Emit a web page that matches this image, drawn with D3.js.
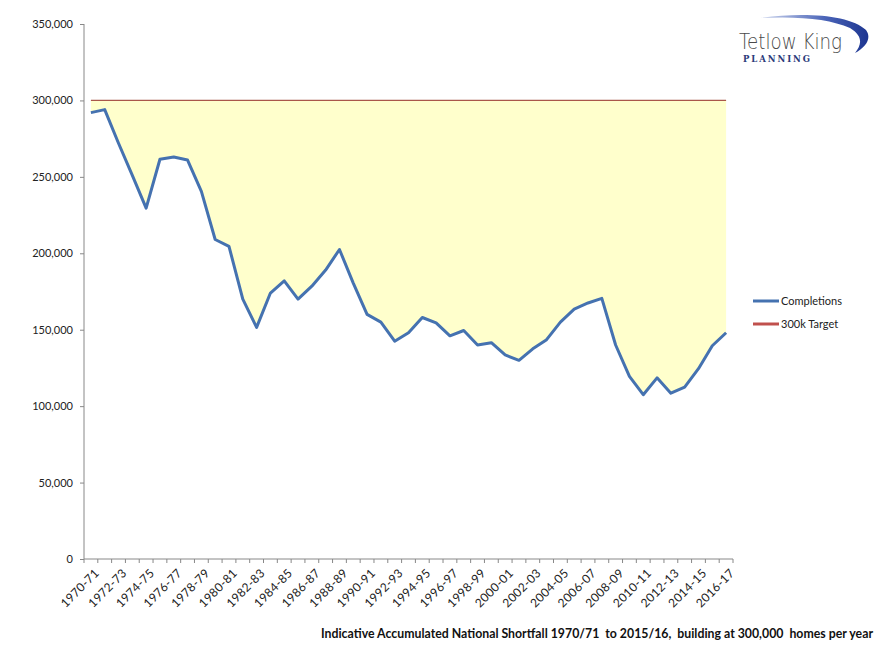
<!DOCTYPE html>
<html><head><meta charset="utf-8">
<script src="https://cdn.jsdelivr.net/npm/d3@7"></script>
<style>body{margin:0;background:#fff}svg{display:block}</style>
</head><body>
<svg id="c" width="880" height="660"></svg>
<script>
const categories = ["1970-71","1971-72","1972-73","1973-74","1974-75","1975-76","1976-77","1977-78","1978-79","1979-80",
"1980-81","1981-82","1982-83","1983-84","1984-85","1985-86","1986-87","1987-88","1988-89","1989-90",
"1990-91","1991-92","1992-93","1993-94","1994-95","1995-96","1996-97","1997-98","1998-99","1999-00",
"2000-01","2001-02","2002-03","2003-04","2004-05","2005-06","2006-07","2007-08","2008-09","2009-10",
"2010-11","2011-12","2012-13","2013-14","2014-15","2015-16","2016-17"];
const completions = [292000,294000,272000,251000,229500,261500,263000,261000,240500,209000,
204500,170000,151500,174000,182000,170000,178500,189000,202500,180500,
160000,155000,142500,148000,158000,154500,146000,149500,140000,141500,
133500,130000,137500,143500,155000,163500,167500,170500,140000,119500,
107500,118500,108500,112500,124500,139500,148000];
const target = 300000;
const yTicks = [0,50000,100000,150000,200000,250000,300000,350000];
const seriesNames = ["Completions","300k Target"];
const titleText = "Indicative Accumulated National Shortfall 1970/71  to 2015/16,  building at 300,000  homes per year";

const svg = d3.select("#c");
const font = "Lato, 'Open Sans', sans-serif";
const x = d3.scaleBand().domain(categories).range([84,733]).padding(0);
const bw = x.bandwidth();
const cx = c => x(c) + bw/2;
const y = d3.scaleLinear().domain([0,350000]).range([559,24]);

const data = categories.map((c,i)=>({c, v: completions[i]}));

// fill between target and completions
svg.append("path").datum(data)
  .attr("d", d3.area().x(d=>cx(d.c)).y0(y(target)).y1(d=>y(d.v)))
  .attr("fill","#FFFFCC");

// target line
svg.append("path").datum(data)
  .attr("d", d3.line().x(d=>cx(d.c)).y(()=>y(target)))
  .attr("fill","none").attr("stroke","#A9574A").attr("stroke-width",1.3);

// completions line
svg.append("path").datum(data)
  .attr("d", d3.line().x(d=>cx(d.c)).y(d=>y(d.v)))
  .attr("fill","none").attr("stroke","#4572B0").attr("stroke-width",3).attr("stroke-linejoin","round");

// y axis
const ya = svg.append("g").attr("transform","translate(84,0)")
  .call(d3.axisLeft(y).tickValues(yTicks).tickSize(4).tickPadding(7).tickFormat(d=>d===0?"0":d3.format(",")(d)));
ya.select(".domain").attr("stroke","#888").attr("d","M0,24V559");
ya.selectAll(".tick line").attr("stroke","#888");
ya.selectAll(".tick text").attr("fill","#222").style("font-family",font).style("font-size","11px");

// x axis line
svg.append("line").attr("x1",84).attr("x2",733).attr("y1",559).attr("y2",559).attr("stroke","#888");
// tick marks at band edges
const edges = categories.map(c=>x(c)).concat([x.range()[1]]);
svg.append("g").selectAll("line").data(edges).join("line")
  .attr("x1",d=>d).attr("x2",d=>d).attr("y1",559).attr("y2",563).attr("stroke","#888");
// labels
svg.append("g").selectAll("text").data(categories.filter((c,i)=>i%2===0)).join("text")
  .attr("transform",c=>`translate(${cx(c)+6},${571}) rotate(-45)`)
  .attr("text-anchor","end").attr("dy","0.35em")
  .attr("fill","#222").style("font-family",font).style("font-size","12px").style("letter-spacing","0.3px")
  .text(c=>c);

// legend
const lg = svg.append("g");
const lcol = ["#4572B0","#C0504D"];
seriesNames.forEach((n,i)=>{
  const yy = 301 + i*23;
  lg.append("line").attr("x1",753).attr("x2",779).attr("y1",yy).attr("y2",yy).attr("stroke",lcol[i]).attr("stroke-width",3);
  lg.append("text").attr("x",781).attr("y",yy).attr("dy","0.35em").attr("fill","#222")
    .style("font-family",font).style("font-size","11px").text(n);
});

// title
svg.append("text").attr("x",321).attr("y",638).attr("textLength",552).attr("lengthAdjust","spacingAndGlyphs")
  .style("font-family",font).style("font-size","12.5px").style("font-weight","bold").attr("fill","#111")
  .style("white-space","pre").text(titleText);

// logo
const logo = svg.append("g");
const grad = svg.append("defs").append("linearGradient").attr("id","sw").attr("x1","0").attr("x2","1");
grad.append("stop").attr("offset","0").attr("stop-color","#d3dbf0");
grad.append("stop").attr("offset","0.6").attr("stop-color","#4a64b8");
grad.append("stop").attr("offset","1").attr("stop-color","#1d3590");
logo.append("path").attr("fill","url(#sw)")
  .attr("d","M760,18 C800,12 850,14 866,30 C872,38 866,47 855,53 C862,44 863,36 850,28 C830,19 800,16 760,18 Z");
logo.append("text").attr("x",739).attr("y",49).attr("textLength",103).attr("lengthAdjust","spacingAndGlyphs")
  .style("font-family","'DejaVu Sans', sans-serif").style("font-size","21px").style("font-weight","300")
  .attr("fill","#4a4a4a").text("Tetlow King");
logo.append("text").attr("x",743).attr("y",62).attr("textLength",67)
  .style("font-family","'DejaVu Serif', serif").style("font-size","8.5px").style("font-weight","bold")
  .attr("fill","#2B3A7A").text("PLANNING");
</script>
</body></html>
